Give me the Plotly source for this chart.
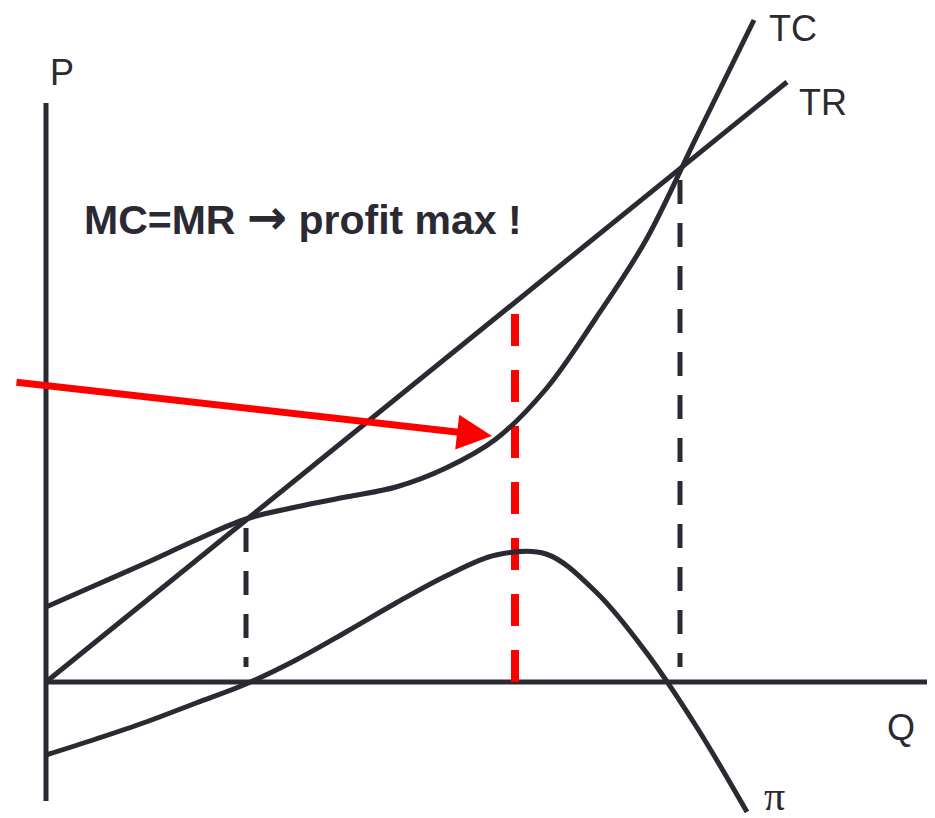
import plotly.graph_objects as go

# quantity / value readings (arbitrary units)
tr_q = [0, 74.1]
tr_v = [0, 60.0]

tc_q = [0, 5, 10, 15, 20, 25, 30, 35, 40, 45, 50, 55, 60, 65, 70.8]
tc_v = [7.5, 9.7, 11.9, 14.2, 16.3, 17.5, 18.5, 19.5, 21.4, 24.3, 29.3, 36.4, 44.2, 54.4, 66.2]

pi_q = [0, 5, 10, 15, 20, 25, 30, 35, 40, 45, 50, 55, 60, 65, 70.1]
pi_v = [-7.3, -5.7, -4.0, -2.1, -0.2, 2.2, 5.0, 7.9, 10.6, 12.7, 12.8, 9.0, 3.0, -4.4, -13.0]

q_break_even = [20.0, 63.4]   # TR = TC
v_break_even = [16.4, 51.2]
q_star = 46.9                 # MC = MR
v_star_top = 36.8

ink = "#2b2a33"
red = "#ff0000"

fig = go.Figure()

# axes
fig.add_trace(go.Scatter(x=[0, 0], y=[57.9, -11.9], mode="lines",
                         line=dict(color=ink, width=5)))
fig.add_trace(go.Scatter(x=[0, 90], y=[0, 0], mode="lines",
                         line=dict(color=ink, width=5)))

# dashed guides
for q, v in zip(q_break_even, v_break_even):
    fig.add_trace(go.Scatter(x=[q, q], y=[v - 1.0, 1.5], mode="lines",
                             line=dict(color=ink, width=5, dash="24px,19px")))
fig.add_trace(go.Scatter(x=[q_star, q_star], y=[v_star_top, 0], mode="lines",
                         line=dict(color=red, width=8, dash="32px,24px")))

# curves
fig.add_trace(go.Scatter(x=tr_q, y=tr_v, mode="lines", line=dict(color=ink, width=5)))
fig.add_trace(go.Scatter(x=tc_q, y=tc_v, mode="lines",
                         line=dict(color=ink, width=5, shape="spline", smoothing=1)))
fig.add_trace(go.Scatter(x=pi_q, y=pi_v, mode="lines",
                         line=dict(color=ink, width=5, shape="spline", smoothing=1)))

labels = [
    ("P", 0.2, 61.0, "Liberation Sans", 36),
    ("TC", 72.1, 65.4, "Liberation Sans", 36),
    ("TR", 75.1, 58.0, "Liberation Sans", 36),
    ("Q", 83.9, -4.5, "Liberation Sans", 36),
    ("π", 71.6, -11.4, "Liberation Serif", 42),
]
for txt, x, y, fam, size in labels:
    fig.add_annotation(x=x, y=y, text=txt, showarrow=False, xanchor="left",
                       yanchor="middle", font=dict(family=fam, size=size, color=ink))

fig.add_annotation(x=3.6, y=46.5,
                   text="<b>MC=MR <span style='font-family:DejaVu Sans;font-size:48px'>→</span> profit max !</b>",
                   showarrow=False, xanchor="left", yanchor="middle",
                   font=dict(family="Liberation Sans", size=41, color=ink))

# red arrow pointing at TC where MC = MR
fig.add_annotation(x=44.6, y=24.6, ax=-3.1, ay=30.0, xref="x", yref="y",
                   axref="x", ayref="y", text="", showarrow=True,
                   arrowhead=2, arrowsize=1, arrowwidth=7, arrowcolor=red)

# page body has an 8px margin, so the figure is 8px smaller and ranges shifted
fig.update_layout(
    width=927, height=810,
    margin=dict(l=0, r=0, t=0, b=0),
    paper_bgcolor="white", plot_bgcolor="white",
    showlegend=False, hovermode=False,
    xaxis=dict(range=[-3.8, 88.9], visible=False),
    yaxis=dict(range=[-13.6, 67.4], visible=False),
)

fig.write_html("out.html")
